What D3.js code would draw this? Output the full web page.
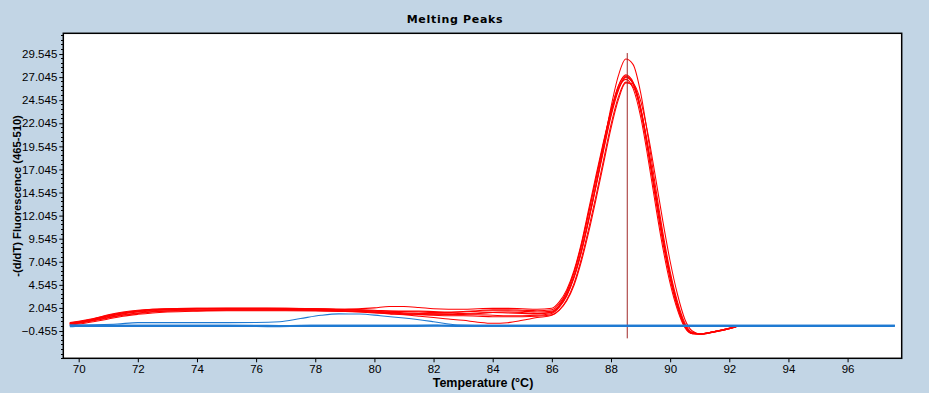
<!DOCTYPE html>
<html><head><meta charset="utf-8">
<script src="https://cdn.jsdelivr.net/npm/d3@7"></script>
<style>
html,body{margin:0;padding:0;background:#c2d5e5;}
svg{display:block;}
</style></head>
<body>
<svg id="chart" width="929" height="393"></svg>
<script>
const title = "Melting Peaks";
const xLabel = "Temperature (°C)";
const yLabel = "-(d/dT) Fluorescence (465-510)";
const xTicks = [70,72,74,76,78,80,82,84,86,88,90,92,94,96];
const yTicks = [-0.455,2.045,4.545,7.045,9.545,12.045,14.545,17.045,19.545,22.045,24.545,27.045,29.545];

// shared temperature grid of red (sample) curves
const redTemps = [69.7,70,70.5,71,71.5,72,72.5,73,74,75,76,77,78,79,80,80.5,81,81.5,82,82.5,83,83.5,84,84.5,85,85.5,86,86.25,86.5,86.75,87,87.25,87.5,87.75,88,88.25,88.5,88.75,89,89.25,89.5,89.75,90,90.25,90.5,90.75,91,91.5,92,92.3];
const red1 = [0.4,0.5,0.8,1.15,1.45,1.65,1.8,1.85,1.9,1.9,1.9,1.88,1.85,1.75,1.6,1.55,1.5,1.45,1.4,1.4,1.45,1.5,1.55,1.5,1.45,1.4,1.6,2.2,3.4,5.4,8.2,11.6,15.4,19.6,23.8,27.2,29.0,28.4,25.4,20.6,15.3,10.3,6.0,2.7,0.4,-0.6,-0.75,-0.5,-0.15,0.1];
const red2 = [0.3,0.45,0.75,1.1,1.4,1.6,1.75,1.85,1.95,2.0,2.0,2.0,1.95,1.9,2.05,2.2,2.2,2.1,1.95,1.9,1.9,1.95,2.0,2.0,1.95,1.9,2.0,2.7,4.0,6.1,9.1,12.8,16.5,20.1,23.4,25.8,26.8,25.8,22.8,18.3,13.3,8.6,4.7,1.8,-0.1,-0.75,-0.8,-0.55,-0.2,0.1];
const red3 = [0.2,0.3,0.55,0.85,1.15,1.35,1.5,1.6,1.7,1.75,1.75,1.75,1.72,1.65,1.5,1.4,1.3,1.15,1.0,0.85,0.7,0.5,0.38,0.45,0.7,1.0,1.25,1.8,2.9,4.7,7.4,10.7,14.3,18.1,21.9,24.9,26.5,26.0,23.6,19.3,14.5,9.7,5.6,2.4,0.2,-0.65,-0.75,-0.5,-0.15,0.1];
const red4 = [0.35,0.5,0.8,1.2,1.5,1.7,1.85,1.9,1.95,1.95,1.95,1.95,1.9,1.85,1.7,1.6,1.5,1.45,1.4,1.35,1.3,1.3,1.25,1.2,1.2,1.25,1.45,2.1,3.3,5.3,8.1,11.6,15.3,19.1,22.8,25.6,27.1,26.4,23.8,19.6,14.6,9.8,5.6,2.4,0.2,-0.7,-0.75,-0.5,-0.15,0.1];
const red5 = [0.3,0.45,0.7,1.0,1.3,1.5,1.65,1.75,1.8,1.85,1.85,1.85,1.82,1.75,1.6,1.5,1.4,1.35,1.3,1.3,1.35,1.45,1.55,1.6,1.55,1.45,1.55,2.3,3.7,5.9,8.9,12.5,16.2,19.9,23.4,26.1,27.3,26.5,23.7,19.4,14.4,9.6,5.4,2.2,0.1,-0.7,-0.78,-0.5,-0.15,0.1];
const red6 = [0.4,0.55,0.85,1.25,1.55,1.75,1.9,1.95,2.0,2.0,2.0,1.98,1.95,1.9,1.8,1.7,1.65,1.6,1.55,1.55,1.6,1.7,1.75,1.75,1.7,1.6,1.7,2.3,3.5,5.5,8.3,11.8,15.5,19.3,23.0,25.8,27.0,26.3,23.6,19.3,14.4,9.6,5.5,2.3,0.1,-0.7,-0.78,-0.52,-0.18,0.1];
const red7 = [0.25,0.4,0.65,0.95,1.25,1.45,1.6,1.7,1.75,1.8,1.8,1.8,1.78,1.7,1.55,1.45,1.35,1.3,1.25,1.2,1.2,1.15,1.1,1.1,1.1,1.15,1.3,1.8,2.8,4.5,7.1,10.3,13.9,17.7,21.5,24.6,26.4,26.3,24.5,20.9,16.3,11.5,7.1,3.5,0.8,-0.45,-0.75,-0.55,-0.2,0.1];
const red8 = [0.45,0.6,0.9,1.3,1.6,1.8,1.9,1.95,2.0,2.0,2.0,2.0,1.95,1.85,1.75,1.7,1.7,1.7,1.65,1.6,1.65,1.75,1.85,1.85,1.8,1.75,1.85,2.5,3.8,5.9,8.8,12.4,16.1,19.9,23.4,26.1,27.2,26.3,23.4,19.0,14.0,9.2,5.2,2.1,0.0,-0.75,-0.8,-0.55,-0.2,0.1];

// blue (negative control) curves
const blueTemps = [69.7,70.5,71.3,72,74,76,76.8,77.5,78.2,78.8,79.5,80.2,81,82,82.8,84,88,92,97.6];
const blue1 = [0.08,0.1,0.1,0.1,0.1,0.09,0.08,0.1,0.1,0.1,0.11,0.1,0.1,0.12,0.1,0.1,0.1,0.1,0.1];
const blue2 = [0.18,0.16,0.15,0.14,0.14,0.13,0.12,0.12,0.13,0.13,0.14,0.13,0.14,0.15,0.14,0.14,0.14,0.14,0.14];
const blue3 = [0.12,0.2,0.3,0.45,0.45,0.46,0.55,0.9,1.25,1.4,1.38,1.2,0.95,0.55,0.2,0.14,0.14,0.14,0.14];

// Tm marker
const markerTemp = [88.55];
const markerRange = [-1.25, 29.65];

(function(){
const svg = d3.select("#chart");
const pL = 63.3, pR = 901.7, pT = 33.3, pB = 358.3;
const x = d3.scaleLinear().domain([69.48, 97.83]).range([pL, pR]);
const y = d3.scaleLinear().domain([-3.41, 31.79]).range([pB, pT]);

svg.append("rect").attr("x", pL).attr("y", pT).attr("width", pR-pL).attr("height", pB-pT)
  .attr("fill", "#ffffff");

svg.append("clipPath").attr("id","clip").append("rect")
  .attr("x", pL).attr("y", pT).attr("width", pR-pL).attr("height", pB-pT);
const plot = svg.append("g").attr("clip-path","url(#clip)");

const line = d3.line().x(d => x(d[0])).y(d => y(d[1])).curve(d3.curveMonotoneX);

const reds = [red7, red3, red4, red5, red6, red8, red2, red1];
reds.forEach(s => {
  plot.append("path").datum(redTemps.map((t,i)=>[t,s[i]]))
    .attr("d", line).attr("fill","none").attr("stroke","#ff0000").attr("stroke-width",1.05);
});

plot.selectAll("line.marker").data(markerTemp).join("line").attr("class","marker")
  .attr("x1", d=>x(d)).attr("x2", d=>x(d)).attr("y1", y(markerRange[1])).attr("y2", y(markerRange[0]))
  .attr("stroke","#a02828").attr("stroke-width",1);

[[blue3,1.1],[blue2,1.6],[blue1,2.2]].forEach(([s,w]) => {
  plot.append("path").datum(blueTemps.map((t,i)=>[t,s[i]]))
    .attr("d", line).attr("fill","none").attr("stroke","#1f7ad2").attr("stroke-width",w);
});

// axes
const yAxis = d3.axisLeft(y).tickValues(yTicks).tickFormat(d3.format(".3f")).tickSize(4).tickPadding(2);
const gy = svg.append("g").attr("transform",`translate(${pL},0)`).call(yAxis);
gy.select(".domain").remove();
gy.selectAll("text").attr("font-family","Liberation Sans, Arial, sans-serif").attr("font-size","11.5px").attr("fill","#000");
// minor y ticks
const minorY = d3.range(-3.455, 31.6, 0.5).filter(v => !yTicks.some(t => Math.abs(t-v) < 1e-6));
svg.append("g").selectAll("line").data(minorY).join("line")
  .attr("x1", pL-2).attr("x2", pL).attr("y1", d=>y(d)).attr("y2", d=>y(d))
  .attr("stroke","#000").attr("stroke-width",1).attr("shape-rendering","crispEdges");

const xAxis = d3.axisBottom(x).tickValues(xTicks).tickFormat(d3.format("d")).tickSize(4).tickPadding(3);
const gx = svg.append("g").attr("transform",`translate(0,${pB})`).call(xAxis);
gx.select(".domain").remove();
gx.selectAll("text").attr("font-family","Liberation Sans, Arial, sans-serif").attr("font-size","11.5px").attr("fill","#000");

svg.append("rect").attr("x", pL).attr("y", pT).attr("width", pR-pL).attr("height", pB-pT)
  .attr("fill", "none").attr("stroke","#000").attr("stroke-width",1.5);

svg.append("text").attr("x", 455).attr("y", 23).attr("text-anchor","middle")
  .attr("font-family","DejaVu Sans, Verdana, sans-serif").attr("font-weight","bold").attr("font-size","11px")
  .attr("letter-spacing","0.7px").text(title);

svg.append("text").attr("x", 483).attr("y", 387).attr("text-anchor","middle")
  .attr("font-family","Liberation Sans, Arial, sans-serif").attr("font-weight","bold").attr("font-size","12.5px")
  .text(xLabel);

svg.append("text").attr("transform","translate(21,196) rotate(-90)").attr("text-anchor","middle")
  .attr("font-family","Liberation Sans, Arial, sans-serif").attr("font-weight","bold").attr("font-size","11.2px")
  .text(yLabel);
})();
</script>
</body></html>
